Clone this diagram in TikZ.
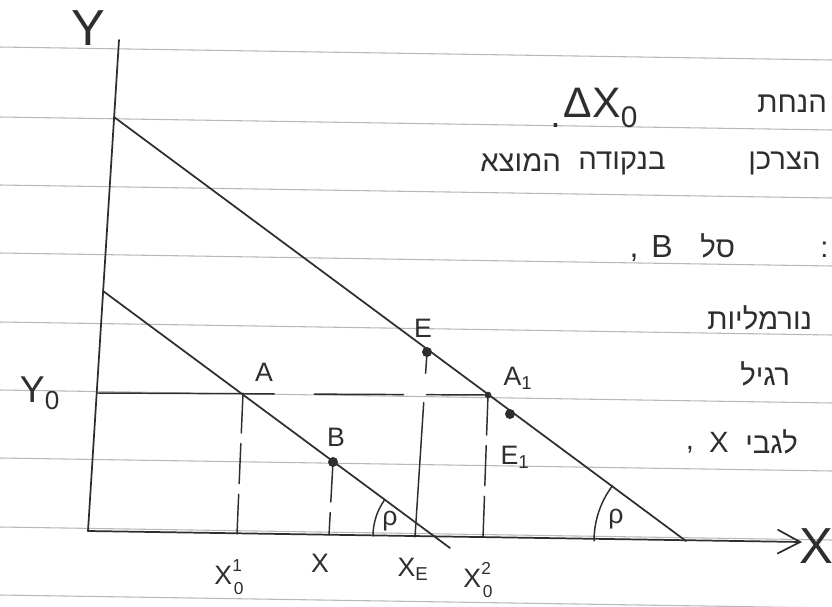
\documentclass[tikz,border=0pt]{standalone}
\usepackage{fontspec}
\setmainfont{Liberation Sans}
\newfontfamily\hebfont[Script=Hebrew]{Liberation Sans}
\TeXXeTstate=1
\usetikzlibrary{arrows.meta, positioning}
\definecolor{ink}{HTML}{2E2E2E}
\definecolor{paperrule}{HTML}{B8B8B8}
% stacked super- and subscript
\newcommand{\stk}[2]{\raisebox{10pt}{\fontsize{13}{13}\selectfont #1}\hspace{-6pt}\raisebox{-7pt}{\fontsize{13}{13}\selectfont #2}}

\begin{document}
\begin{tikzpicture}[
  x=0.75pt, y=-0.75pt,
  ruleline/.style={draw=paperrule, line width=0.8pt},
  pen/.style={draw=ink, line width=1.3pt, line cap=round},
  thinpen/.style={pen, line width=1.1pt},
  dropline/.style={thinpen, dash pattern=on 30pt off 8pt},
  dot/.style={circle, fill=ink, inner sep=0pt, minimum size=7.5pt},
  lbl/.style={text=ink, inner sep=0pt, font=\fontsize{20}{22}\selectfont},
  biglbl/.style={lbl, font=\fontsize{38}{38}\selectfont},
  heb/.style={text=ink, inner sep=0pt, anchor=west, font=\hebfont\fontsize{22}{24}\selectfont}
]
\fill[white] (0,0) rectangle (832,607);
\useasboundingbox (0,0) rectangle (832,607);

% lined paper
\foreach \yy in {47,117,185,253,322,390,458,527,595}
  \draw[ruleline] (0,\yy) -- (832,\yy+13);

% axes and points
\coordinate (O)    at (88,531);
\coordinate (ytop) at (119,40);
\coordinate (xend) at (802,542);
\coordinate (c1)   at (114,117);
\coordinate (c2)   at (686,541);
\coordinate (d1)   at (103,291);
\coordinate (d2)   at (450,548);
\coordinate (p1)   at (435,536);
\coordinate (A)    at (243,393);
\coordinate (A1)   at (488,395);
\coordinate (B)    at (333,462);
\coordinate (E)    at (427,352);
\coordinate (E1)   at (510,414);
\coordinate (y0)   at (97,393);
\coordinate (xa)   at (237,534);
\coordinate (xb)   at (329,535);
\coordinate (xe)   at (415,537);
\coordinate (xa1)  at (483,538);

\draw[pen] (O) -- (ytop);
\draw[pen, -{Straight Barb[length=17pt, width=18pt]}] (O) -- (xend);

% budget lines
\draw[pen] (c1) -- (c2);
\draw[pen] (d1) -- (d2);

\draw[thinpen, dash pattern=on 133pt off 30pt on 67pt off 17pt] (y0) -- (A1);
\draw[dropline] (A) -- (xa);
\draw[dropline] (B) -- (xb);
\draw[dropline] (A1) -- (xa1);
\draw[thinpen, dash pattern=on 16pt off 22pt on 200pt off 0pt] (E) -- (xe);

% angles
\draw[thinpen] (p1) ++(215:62) arc[start angle=215, end angle=180, radius=62];
\draw[thinpen] (c2) ++(217:92) arc[start angle=217, end angle=180, radius=92];

\node[dot] (dotB)  at (B)  {};
\node[dot] (dotE)  at (E)  {};
\node[dot] (dotE1) at (E1) {};
\node[dot, minimum size=5pt] (dotA1) at (A1) {};

% labels
\node[biglbl] (labY)  at (88,28)  {Y};
\node[biglbl] (labX)  at (816,546) {X};
\node[lbl, font=\fontsize{28}{30}\selectfont] (labY0) at (40,393) {Y\textsubscript{0}};
\node[lbl] (labA)   at (264,372) {A};
\node[lbl] (labA1)  at (518,378) {A\textsubscript{1}};
\node[lbl] (labE)   at (423,328) {E};
\node[lbl] (labB)   at (336,437) {B};
\node[lbl] (labE1)  at (515,457) {E\textsubscript{1}};
\node[lbl] (labxa)  at (229,577) {X\stk{1}{0}};
\node[lbl] (labx)   at (320,563) {X};
\node[lbl] (labxe)  at (413,569) {X\textsubscript{E}};
\node[lbl] (labxa1) at (478,580) {X\stk{2}{0}};
\node[lbl] (rho1)   at (390,521) {ρ};
\node[lbl] (rho2)   at (616,519) {ρ};

% hebrew notes
\node[lbl, font=\fontsize{32}{34}\selectfont] (dx0) at (601,108) {ΔX\textsubscript{0}};
\node[lbl, font=\fontsize{28}{30}\selectfont, left=2pt of dx0.south west, anchor=south east] (dot0) {.};
\node[heb] (h1)  at (757,104) {\beginR הנחת\endR};
\node[heb] (h2a) at (748,163) {\beginR הצרכן\endR};
\node[heb] (h2b) at (578,163) {\beginR בנקודה\endR};
\node[heb] (h2c) at (480,163) {\beginR המוצא\endR};
\node[heb] (h3)  at (700,246) {\beginR סל\endR};
\node[lbl, font=\fontsize{24}{26}\selectfont] (h3b) at (662,246) {B};
\node[lbl, font=\fontsize{24}{26}\selectfont] (h3a) at (634,258) {,};
\node[heb] (h3c) at (820,250) {:};
\node[heb] (h4)  at (707,318) {\beginR נורמליות\endR};
\node[heb] (h5)  at (740,374) {\beginR רגיל\endR};
\node[heb] (h6)  at (745,442) {\beginR לגבי\endR};
\node[lbl, font=\fontsize{22}{24}\selectfont] (h6b) at (719,442) {X};
\node[lbl, font=\fontsize{22}{24}\selectfont] (h6a) at (690,450) {,};
\end{tikzpicture}
\end{document}
